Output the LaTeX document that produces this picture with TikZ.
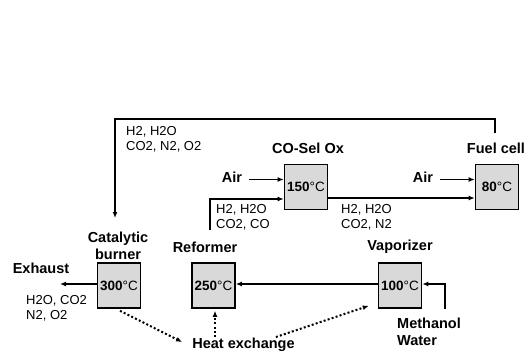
\documentclass[tikz,border=0pt]{standalone}
\usepackage{fontspec}
\setmainfont{Liberation Sans}
\usetikzlibrary{arrows.meta}
\newcommand{\tempC}[1]{\textbf{#1}°C}
\tikzset{
  unit/.style={draw,line width=1.6pt,fill=gray!30,minimum width=43pt,minimum height=45pt,inner sep=0pt,font=\fontsize{13.5}{15}\selectfont},
  lbl/.style={font=\fontsize{14.5}{17}\selectfont\bfseries,inner sep=1pt},
  chem/.style={font=\fontsize{13}{15}\selectfont,align=left,anchor=west,inner sep=0pt},
  flow/.style={line width=1.5pt,-{Latex[length=6pt,width=5pt]}},
  heat/.style={line width=2pt,dash pattern=on 2pt off 2.2pt,-{Latex[length=6pt,width=5pt]}}
}
\begin{document}
\begin{tikzpicture}[x=1pt,y=-1pt]
\useasboundingbox (0,0) rectangle (527,354);
\node[unit] (burner) at (119,285.5) {\tempC{300}};
\node[unit] (reformer) at (213.5,285.5) {\tempC{250}};
\node[unit] (vaporizer) at (400,285.5) {\tempC{100}};
\node[unit] (selox) at (306,187) {\tempC{150}};
\node[unit] (fuelcell) at (497,187) {\tempC{80}};
\node[lbl,align=center] (burnerlbl) at (118,245.5) {Catalytic\\burner};
\node[lbl] (reformerlbl) at (205,247) {Reformer};
\node[lbl] (vaporizerlbl) at (400,247) {Vaporizer};
\node[lbl] (seloxlbl) at (308,148) {CO-Sel Ox};
\node[lbl] (fclbl) at (496,148) {Fuel cell};
\node[lbl] (exhaust) at (41,268) {Exhaust};
\node[lbl] (heat) at (243.5,345) {Heat exchange};
\node[lbl] (air1) at (232,177.5) {Air};
\node[lbl] (air2) at (423,177.5) {Air};
\node[lbl,align=left,anchor=west] (feed) at (396,331.5) {Methanol\\Water};
\node[chem] (gasloop) at (126,139) {H2, H2O\\CO2, N2, O2};
\node[chem] (gasref) at (216,217.5) {H2, H2O\\CO2, CO};
\node[chem] (gassel) at (341,217.5) {H2, H2O\\CO2, N2};
\node[chem] (gasexh) at (26,308.5) {H2O, CO2\\N2, O2};
\coordinate (fcout) at (495,133);
\coordinate (cbin) at (115,218);
\coordinate (refout) at (210,230);
\coordinate (exout) at (60,284);
\coordinate (feedin) at (445,309);
\draw[flow] (fcout) -- ++(0,-14) -| (cbin);
\draw[flow] ([xshift=6pt,yshift=-2pt]air1.east) -- ([yshift=-2pt]air1.east -| selox.west);
\draw[flow] (refout) |- ([yshift=-12pt]selox.west);
\draw[flow] ([yshift=-11pt]selox.east) -- ([yshift=-11pt]fuelcell.west);
\draw[flow] ([xshift=6pt,yshift=-2pt]air2.east) -- ([yshift=-2pt]air2.east -| fuelcell.west);
\draw[flow] ([yshift=1.5pt]burner.west) -- (exout);
\draw[flow] ([yshift=1.5pt]vaporizer.west) -- ([yshift=1.5pt]reformer.east);
\draw[flow] (feedin) |- ([yshift=1.5pt]vaporizer.east);
\draw[heat] ([xshift=1pt,yshift=-2pt]burner.south) -- ([shift={(-9pt,3pt)}]heat.west);
\draw[heat] (heat.north -| reformer.south) ++(1.5pt,0) -- ([xshift=1.5pt,yshift=-2pt]reformer.south);
\draw[heat] ([xshift=-20pt]heat.north east) -- ([shift={(-9pt,3pt)}]vaporizer.south west);
\end{tikzpicture}
\end{document}
